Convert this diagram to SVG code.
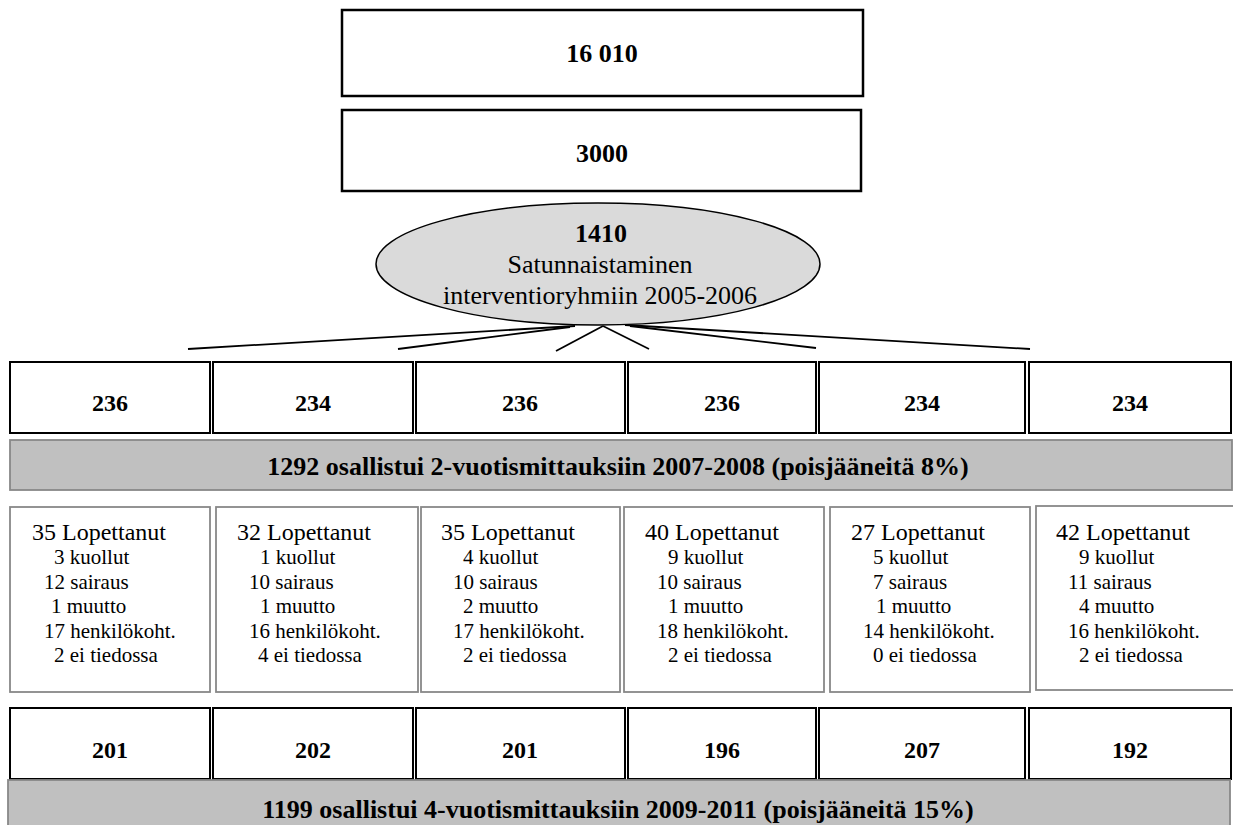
<svg xmlns="http://www.w3.org/2000/svg" width="1233" height="825" viewBox="0 0 1233 825">
<style>
.box{fill:#fff;stroke:#000;stroke-width:2.5}
.rowbox{fill:#fff;stroke:#000;stroke-width:2}
.lbox{fill:#fff;stroke:#888;stroke-width:1.8}
.banner{fill:#c0c0c0;stroke:#888;stroke-width:1.8}
.b{font-family:"Liberation Serif","Times New Roman",serif;font-weight:bold;fill:#000}
.r{font-family:"Liberation Serif","Times New Roman",serif;fill:#000}
.big{font-size:26px}
.num{font-size:24px}
.t1{font-size:24px}
.t2{font-size:21px}
.conn{stroke:#000;stroke-width:1.8;fill:none}
</style>
<rect width="1233" height="825" fill="#fff"/>
<g id="n16010"><rect class="box" x="342" y="10" width="521" height="86"/><text class="b big" x="602" y="62" text-anchor="middle">16 010</text></g>
<g id="n3000"><rect class="box" x="342" y="110" width="519" height="81"/><text class="b big" x="602" y="162" text-anchor="middle">3000</text></g>
<g id="n1410"><ellipse cx="598" cy="264" rx="222" ry="61" fill="#dadada" stroke="#000" stroke-width="1.5"/>
<text class="b big" x="601" y="242" text-anchor="middle">1410</text>
<text class="r big" x="600" y="273" text-anchor="middle">Satunnaistaminen</text>
<text class="r big" x="600" y="304" text-anchor="middle">interventioryhmiin 2005-2006</text></g>
<g id="connectors">
<line class="conn" x1="575" y1="326" x2="188" y2="349"/>
<line class="conn" x1="570" y1="327" x2="398" y2="349"/>
<line class="conn" x1="603" y1="326" x2="556" y2="351"/>
<line class="conn" x1="603" y1="326" x2="649" y2="349"/>
<line class="conn" x1="630" y1="326" x2="816" y2="348"/>
<line class="conn" x1="625" y1="325" x2="1030" y2="349"/>
</g>
<g id="g1a"><rect class="rowbox" x="10" y="362" width="200" height="71"/><text class="b num" x="110" y="411" text-anchor="middle">236</text></g>
<g id="g1b"><rect class="rowbox" x="213" y="362" width="200" height="71"/><text class="b num" x="313" y="411" text-anchor="middle">234</text></g>
<g id="g1c"><rect class="rowbox" x="416" y="362" width="209" height="71"/><text class="b num" x="520" y="411" text-anchor="middle">236</text></g>
<g id="g1d"><rect class="rowbox" x="628" y="362" width="188" height="71"/><text class="b num" x="722" y="411" text-anchor="middle">236</text></g>
<g id="g1e"><rect class="rowbox" x="819" y="362" width="206" height="71"/><text class="b num" x="922" y="411" text-anchor="middle">234</text></g>
<g id="g1f"><rect class="rowbox" x="1029" y="362" width="202" height="71"/><text class="b num" x="1130" y="411" text-anchor="middle">234</text></g>
<g id="banner1"><rect class="banner" x="10" y="440" width="1222" height="50"/><text class="b big" x="618" y="475" text-anchor="middle">1292 osallistui 2-vuotismittauksiin 2007-2008 (poisjääneitä 8%)</text></g>
<g id="l1"><rect class="lbox" x="10" y="507" width="200" height="185"/>
<text class="r t1" x="32" y="540">35 Lopettanut</text>
<text class="r t2" x="54" y="564">3 kuollut</text>
<text class="r t2" x="44" y="589">12 sairaus</text>
<text class="r t2" x="51" y="613">1 muutto</text>
<text class="r t2" x="44" y="638">17 henkilökoht.</text>
<text class="r t2" x="54" y="662">2 ei tiedossa</text></g>
<g id="l2"><rect class="lbox" x="216" y="507" width="202" height="185"/>
<text class="r t1" x="237" y="540">32 Lopettanut</text>
<text class="r t2" x="260" y="564">1 kuollut</text>
<text class="r t2" x="249" y="589">10 sairaus</text>
<text class="r t2" x="260" y="613">1 muutto</text>
<text class="r t2" x="249" y="638">16 henkilökoht.</text>
<text class="r t2" x="258" y="662">4 ei tiedossa</text></g>
<g id="l3"><rect class="lbox" x="421" y="507" width="199" height="185"/>
<text class="r t1" x="441" y="540">35 Lopettanut</text>
<text class="r t2" x="463" y="564">4 kuollut</text>
<text class="r t2" x="453" y="589">10 sairaus</text>
<text class="r t2" x="463" y="613">2 muutto</text>
<text class="r t2" x="453" y="638">17 henkilökoht.</text>
<text class="r t2" x="463" y="662">2 ei tiedossa</text></g>
<g id="l4"><rect class="lbox" x="624" y="507" width="200" height="185"/>
<text class="r t1" x="645" y="540">40 Lopettanut</text>
<text class="r t2" x="668" y="564">9 kuollut</text>
<text class="r t2" x="657" y="589">10 sairaus</text>
<text class="r t2" x="668" y="613">1 muutto</text>
<text class="r t2" x="657" y="638">18 henkilökoht.</text>
<text class="r t2" x="668" y="662">2 ei tiedossa</text></g>
<g id="l5"><rect class="lbox" x="830" y="507" width="200" height="185"/>
<text class="r t1" x="851" y="540">27 Lopettanut</text>
<text class="r t2" x="873" y="564">5 kuollut</text>
<text class="r t2" x="873" y="589">7 sairaus</text>
<text class="r t2" x="876" y="613">1 muutto</text>
<text class="r t2" x="863" y="638">14 henkilökoht.</text>
<text class="r t2" x="873" y="662">0 ei tiedossa</text></g>
<g id="l6"><rect class="lbox" x="1036" y="506" width="200" height="184"/>
<text class="r t1" x="1056" y="540">42 Lopettanut</text>
<text class="r t2" x="1079" y="564">9 kuollut</text>
<text class="r t2" x="1068" y="589">11 sairaus</text>
<text class="r t2" x="1079" y="613">4 muutto</text>
<text class="r t2" x="1068" y="638">16 henkilökoht.</text>
<text class="r t2" x="1079" y="662">2 ei tiedossa</text></g>
<g id="g2a"><rect class="rowbox" x="10" y="708" width="200" height="71"/><text class="b num" x="110" y="758" text-anchor="middle">201</text></g>
<g id="g2b"><rect class="rowbox" x="213" y="708" width="200" height="71"/><text class="b num" x="313" y="758" text-anchor="middle">202</text></g>
<g id="g2c"><rect class="rowbox" x="416" y="708" width="209" height="71"/><text class="b num" x="520" y="758" text-anchor="middle">201</text></g>
<g id="g2d"><rect class="rowbox" x="628" y="708" width="188" height="71"/><text class="b num" x="722" y="758" text-anchor="middle">196</text></g>
<g id="g2e"><rect class="rowbox" x="819" y="708" width="206" height="71"/><text class="b num" x="922" y="758" text-anchor="middle">207</text></g>
<g id="g2f"><rect class="rowbox" x="1029" y="708" width="202" height="71"/><text class="b num" x="1130" y="758" text-anchor="middle">192</text></g>
<g id="banner2"><rect class="banner" x="8" y="780" width="1222" height="60"/><text class="b big" x="618" y="818" text-anchor="middle">1199 osallistui 4-vuotismittauksiin 2009-2011 (poisjääneitä 15%)</text></g>
</svg>
